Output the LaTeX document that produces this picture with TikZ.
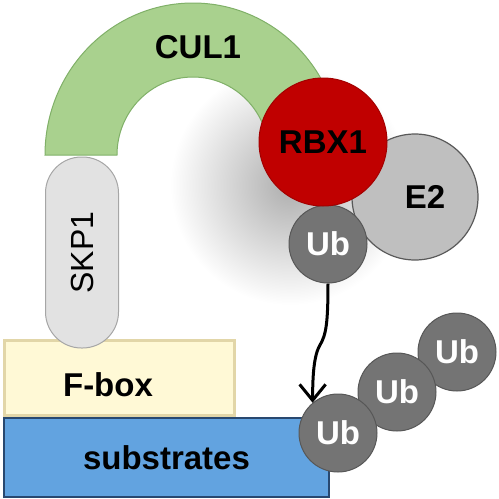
\documentclass[tikz,border=0pt]{standalone}
\usepackage{fontspec}
\setmainfont{Liberation Sans}
\usepackage{tikz}
\usetikzlibrary{arrows.meta}
\usetikzlibrary{positioning}

\definecolor{culgreen}{RGB}{169,209,142}
\definecolor{culedge}{RGB}{128,176,104}
\definecolor{rbxred}{RGB}{192,0,0}
\definecolor{egray}{RGB}{191,191,191}
\definecolor{ugray}{RGB}{116,116,116}
\definecolor{skpgray}{RGB}{226,226,226}
\definecolor{fyellow}{RGB}{255,249,214}
\definecolor{fedge}{RGB}{226,214,168}
\definecolor{sblue}{RGB}{98,163,224}
\definecolor{sedge}{RGB}{40,72,112}

\begin{document}
\begin{tikzpicture}[x=1pt,y=-1pt,
	lbl/.style={font=\fontsize{33}{38}\selectfont\bfseries},
	ball/.style={circle,inner sep=0pt,lbl},
	ub/.style={ball,minimum size=78pt,fill=ugray,draw=ugray!75!black,line width=1pt,text=white},
	box/.style={rectangle,inner sep=0pt,lbl,line width=2.5pt},
	arr/.style={line width=3pt,-{Straight Barb[length=16pt,width=26pt,line width=3pt]}}]
			\useasboundingbox (0,0) rectangle (499,499);
			% shadow of RBX1
			\shade[inner color=black!32,outer color=white] (290,185) circle (120pt);
			% CUL1 arch
			\filldraw[fill=culgreen,draw=culedge,line width=1pt] (45,155) arc[start angle=180,end angle=0,x radius=148pt,y radius=152pt]
			  -- (269,155) arc[start angle=0,end angle=180,x radius=76pt,y radius=78pt] -- cycle;
			\node[lbl] (cul) at (198,47) {CUL1};
			% F-box and substrates
			\node[box,fill=fyellow,draw=fedge,minimum width=230pt,minimum height=75pt] (fbox) at (119.5,378) {};
			\node[lbl] at (108,385) {F-box};
			\node[box,fill=sblue,draw=sedge,line width=1.5pt,minimum width=325pt,minimum height=79pt] (subs) at (166.5,457.5) {substrates};
			% SKP1
			\node[box,rotate=90,fill=skpgray,draw=black!35,line width=1pt,rounded corners=36pt,
			  minimum width=191pt,minimum height=73pt,font=\fontsize{32}{38}\selectfont] (skp) at (82,252.5) {SKP1};
			% E2, Ub, RBX1
			\node[ball,minimum size=126pt,fill=egray,draw=black!65,line width=1.2pt] (e2) at (415,197) {};
			\node[lbl] at (425,197) {E2};
			\node[ub] (ub0) at (328,244) {Ub};
			\node[ball,minimum size=128pt,fill=rbxred,draw=rbxred!85!black,line width=1pt] (rbx) at (323,142) {RBX1};
			% Ub chain
			\node[ub] (ub3) at (457,352) {Ub};
			\node[ub] (ub2) at (397,392) {Ub};
			\node[ub] (ub1) at (338,433) {Ub};
			% transfer
			\coordinate (kink) at (320,345);
			\draw[arr] (ub0.south) .. controls +(0,40) and +(6,-10) .. (kink)
			  .. controls +(-6,10) and +(0,-28) .. (ub1.130);
			\end{tikzpicture}
\end{document}
